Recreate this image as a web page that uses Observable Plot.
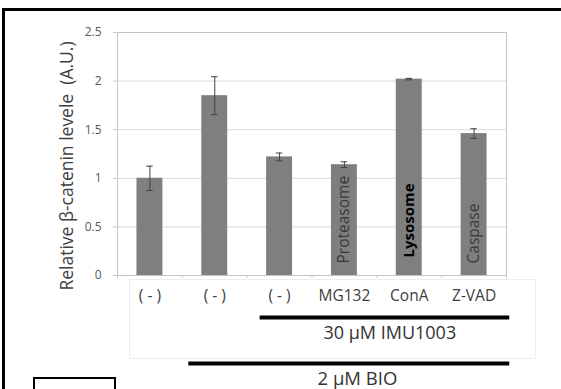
<!DOCTYPE html>
<html>
<head>
<meta charset="utf-8">
<script src="https://cdn.jsdelivr.net/npm/d3@7"></script>
<script src="https://cdn.jsdelivr.net/npm/@observablehq/plot@0.6"></script>
<style>
  html, body { margin: 0; padding: 0; background: #fff; }
  #wrap { position: relative; width: 561px; height: 389px; overflow: hidden; }
  #frame { position: absolute; left: 2px; top: 8px; width: 600px; height: 400px;
           border-top: 3px solid #000; border-left: 3px solid #000; }
  #table { position: absolute; left: 129px; top: 279px; width: 405px; height: 78px;
           border: 1px solid #ededed; }
  #box { position: absolute; left: 33px; top: 377px; width: 79px; height: 30px;
         border: 2px solid #000; }
  #chart { position: absolute; left: 0; top: 0; }
</style>
</head>
<body>
<div id="wrap">
  <div id="frame"></div>
  <div id="table"></div>
  <div id="box"></div>
  <div id="chart"></div>
</div>
<script>
const categories = ["( - )", "( - )", "( - )", "MG132", "ConA", "Z-VAD"];
const values = [1.0, 1.85, 1.22, 1.14, 2.02, 1.46];
const errors = [0.125, 0.195, 0.04, 0.03, 0.008, 0.05];
const barNotes = ["", "", "", "Proteasome", "Lysosome", "Caspase"];
const yTicks = [0, 0.5, 1, 1.5, 2, 2.5];
const yLabel = "Relative β-catenin levele\u00a0\u00a0(A.U.)";
const groupLabels = ["30 μM IMU1003", "2 μM BIO"];
const groupStart = [2, 1];
const groupEnd = [5, 5];

const idx = categories.map((_, i) => i);
const boundaries = categories.map((_, i) => i - 0.5).concat([categories.length - 0.5]);

const font = "'Open Sans', sans-serif";

const plot = Plot.plot({
  width: 561,
  height: 389,
  marginLeft: 117,
  marginRight: 55,
  marginTop: 32,
  marginBottom: 114,
  x: { type: "linear", domain: [-0.5, categories.length - 0.5] },
  y: { domain: [0, 2.5] },
  style: { fontFamily: font, background: "transparent", overflow: "visible" },
  marks: [
    Plot.gridY(yTicks, { stroke: "#d9d9d9", strokeOpacity: 1 }),
    Plot.frame({ stroke: "#c4c4c4" }),
    Plot.axisY({ ticks: yTicks, tickSize: 4, tickPadding: 12, tickFormat: d => `${d}`, stroke: "#c8c8c8",
                 fill: "#595959", fontSize: 12, label: null }),
    Plot.axisX({ ticks: boundaries, tickSize: 3, tickFormat: () => "", stroke: "#c8c8c8", label: null }),
    Plot.axisX({ ticks: idx, tickSize: 0, tickPadding: 14, tickFormat: i => categories[i],
                 fill: "#404040", fontSize: 15.5, label: null }),
    Plot.rectY(values, { x1: (d, i) => i - 0.2, x2: (d, i) => i + 0.2, y1: 0, y2: d => d, fill: "#7f7f7f" }),
    Plot.ruleX(values, { x: (d, i) => i, y1: (d, i) => d - errors[i], y2: (d, i) => d + errors[i], stroke: "#404040" }),
    Plot.ruleY(values, { x1: (d, i) => i - 0.05, x2: (d, i) => i + 0.05, y: (d, i) => d + errors[i], stroke: "#404040" }),
    Plot.ruleY(values, { x1: (d, i) => i - 0.05, x2: (d, i) => i + 0.05, y: (d, i) => d - errors[i], stroke: "#404040" }),
    Plot.text(barNotes, { filter: (d, i) => d && i !== 4, x: (d, i) => i, y: 0, text: d => d, rotate: -90,
                          textAnchor: "start", dy: -12, fontSize: 15.5, fill: "#3a3a3a" }),
    Plot.text(barNotes, { filter: (d, i) => i === 4, x: (d, i) => i, y: 0, text: d => d, rotate: -90,
                          textAnchor: "start", dy: -18, fontSize: 15, fontWeight: "bold", fill: "#000" }),
    Plot.text([yLabel], { frameAnchor: "left", textAnchor: "middle", rotate: -90, dx: -50, dy: 12,
                          fontSize: 17.5, fill: "#404040" }),
    Plot.ruleY([groupLabels[0]], { y: 0, x1: groupStart[0] - 0.3, x2: groupEnd[0] + 0.55, dy: 42, stroke: "#000", strokeWidth: 4 }),
    Plot.text([groupLabels[0]], { y: 0, x: (groupStart[0] + groupEnd[0]) / 2 + 0.2, text: d => d, dy: 58, fontSize: 18, fill: "#333" }),
    Plot.ruleY([groupLabels[1]], { y: 0, x1: groupStart[1] - 0.4, x2: groupEnd[1] + 0.55, dy: 88, stroke: "#000", strokeWidth: 4 }),
    Plot.text([groupLabels[1]], { y: 0, x: (groupStart[1] + groupEnd[1]) / 2 + 0.2, text: d => d, dy: 104, fontSize: 18.5, fill: "#333" })
  ]
});
document.getElementById("chart").appendChild(plot);
</script>
</body>
</html>
